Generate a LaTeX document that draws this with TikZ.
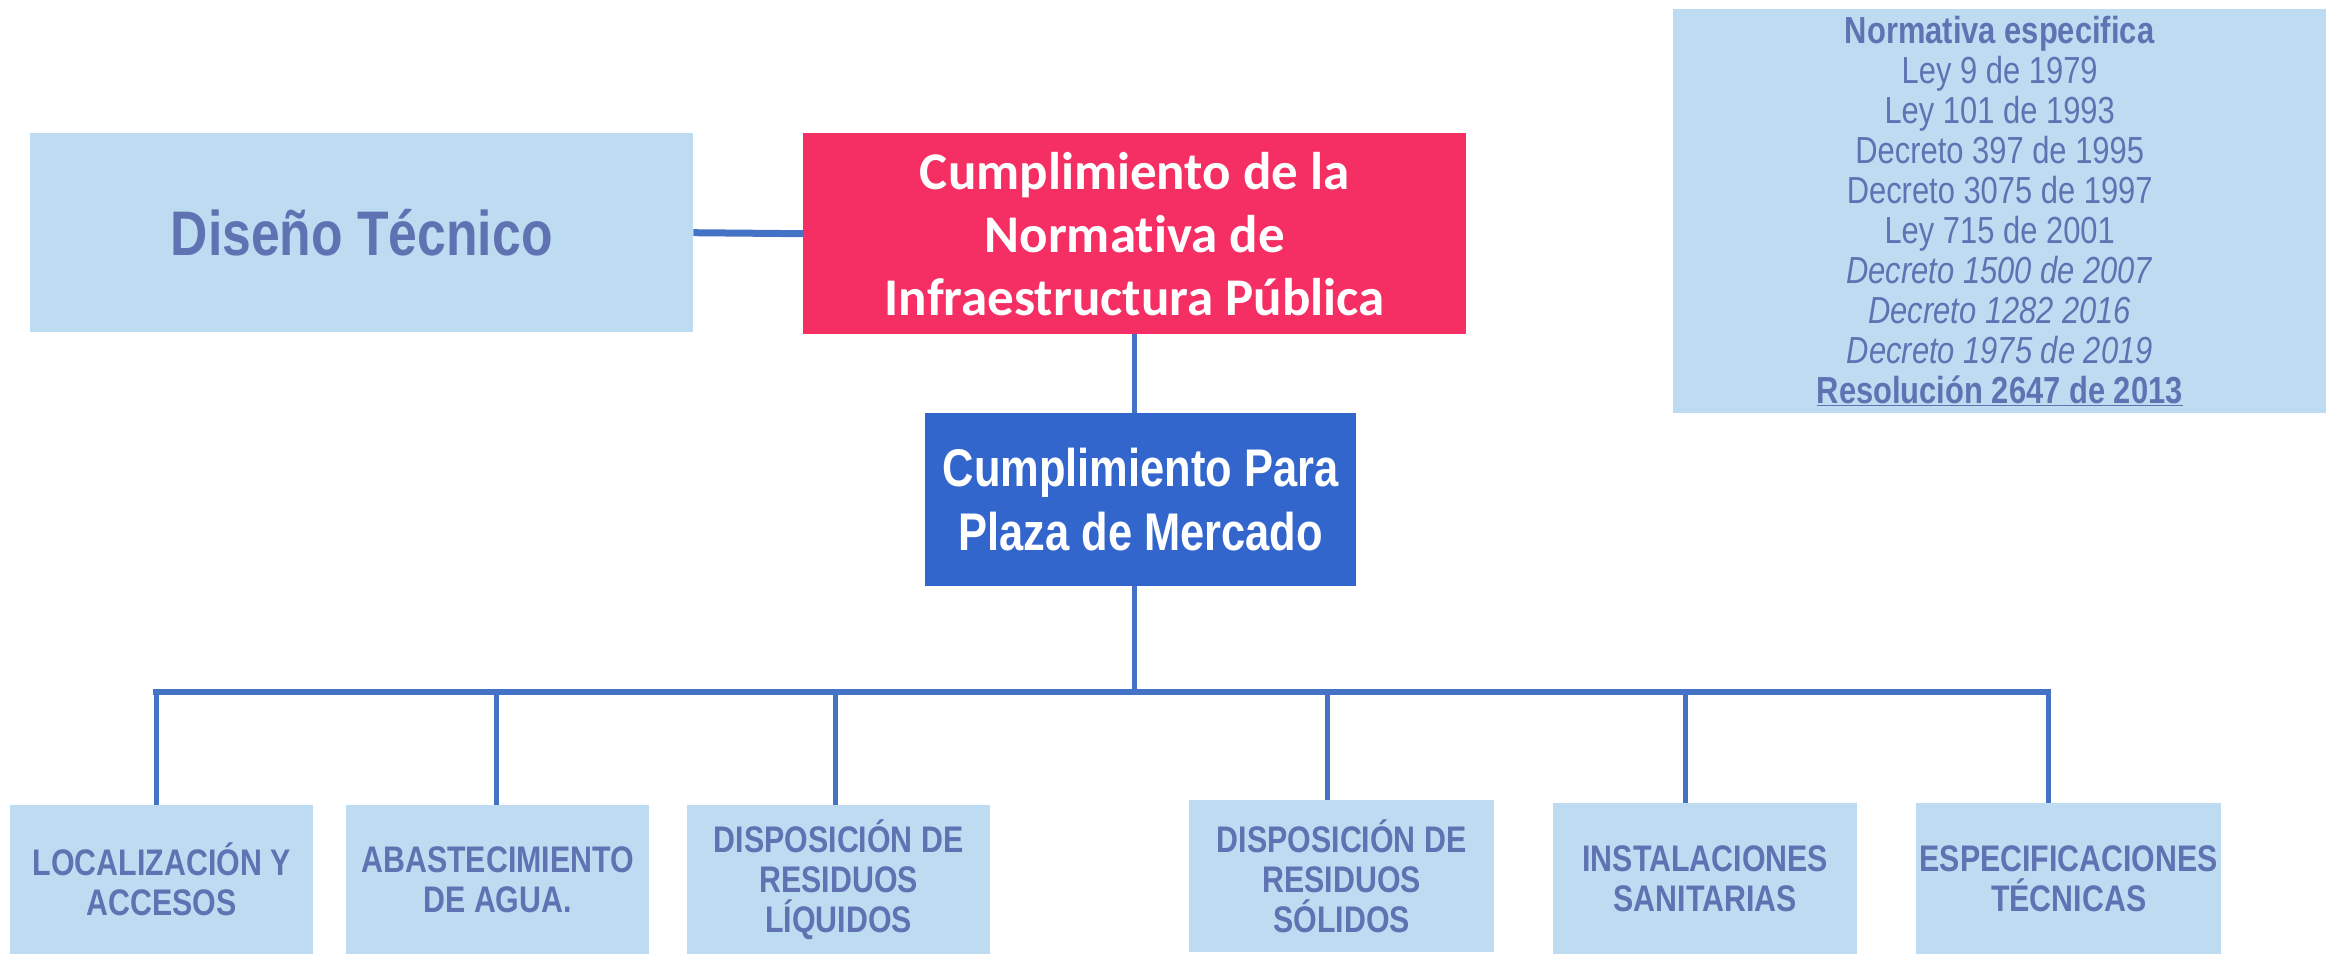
\documentclass[tikz,border=0pt]{standalone}
\usepackage{fontspec}
\setmainfont{Liberation Sans}
\newfontfamily\estrecha[FakeStretch=0.82]{Liberation Sans}
\newfontfamily\calibri[RawFeature={-liga;-calt;-clig;-dlig}]{Carlito}

\definecolor{celeste}{HTML}{BDDCF2}
\definecolor{tinta}{HTML}{5F73B3}
\definecolor{rosa}{HTML}{F52E63}
\definecolor{azul}{HTML}{3366CC}
\definecolor{linea}{HTML}{4472C4}

\tikzset{
    caja/.style={rectangle, fill=celeste, text=tinta, align=center, inner sep=0pt, anchor=north west,
        font=\estrecha\bfseries\fontsize{37}{40}\selectfont},
    ramal/.style={draw=linea, line width=5pt},
}

\begin{document}
\begin{tikzpicture}[x=1pt, y=-1pt]
    \useasboundingbox (0,0) rectangle (2326,954);

    \node[caja, minimum width=663pt, minimum height=199pt, font=\estrecha\bfseries\fontsize{63}{70}\selectfont] (diseno) at (30,133) {Diseño Técnico};
    \node[caja, fill=rosa, text=white, minimum width=663pt, minimum height=201pt, font=\calibri\bfseries\fontsize{53}{63}\selectfont] (cumple) at (803,133) {Cumplimiento de la\\Normativa de\\Infraestructura Pública};
    \node[caja, fill=azul, text=white, minimum width=431pt, minimum height=173pt, font=\estrecha\bfseries\fontsize{53}{64}\selectfont] (plaza) at (925,413) {Cumplimiento Para\\Plaza de Mercado};
    \node[caja, minimum width=653pt, minimum height=404pt, font=\estrecha\fontsize{37.7}{40}\selectfont] (norma) at (1673,9) {\textbf{Normativa especifica}\\Ley 9 de 1979\\Ley 101 de 1993\\Decreto 397 de 1995\\Decreto 3075 de 1997\\Ley 715 de 2001\\\textit{Decreto 1500 de 2007}\\\textit{Decreto 1282 2016}\\\textit{Decreto 1975 de 2019}\\\textbf{\underline{Resolución 2647 de 2013}}};

    \node[caja, minimum width=303pt, minimum height=149pt] (loc) at (10,805) {LOCALIZACIÓN Y\\ACCESOS};
    \node[caja, minimum width=303pt, minimum height=149pt] (agua) at (346,805) {ABASTECIMIENTO\\DE AGUA.};
    \node[caja, minimum width=303pt, minimum height=149pt] (liq) at (687,805) {DISPOSICIÓN DE\\RESIDUOS\\LÍQUIDOS};
    \node[caja, minimum width=305pt, minimum height=152pt] (sol) at (1189,800) {DISPOSICIÓN DE\\RESIDUOS\\SÓLIDOS};
    \node[caja, minimum width=304pt, minimum height=151pt] (san) at (1553,803) {INSTALACIONES\\SANITARIAS};
    \node[caja, minimum width=305pt, minimum height=151pt] (esp) at (1916,803) {ESPECIFICACIONES\\TÉCNICAS};

    \coordinate (r1) at (156,692);
    \coordinate (r2) at (496,692);
    \coordinate (r3) at (835,692);
    \coordinate (r4) at (1327,692);
    \coordinate (r5) at (1685,692);
    \coordinate (r6) at (2048,692);

    \draw[ramal, line width=7pt] (diseno.east) -- (cumple.west);
    \draw[ramal] (cumple.south) -- (cumple.south |- plaza.north);
    \draw[ramal] (plaza.south -| cumple.south) -- (r1 -| cumple.south);
    \draw[ramal, line width=6pt, line cap=rect] (r1) -- (r6);
    \foreach \r/\n in {r1/loc, r2/agua, r3/liq, r4/sol, r5/san, r6/esp}
        \draw[ramal] (\r) -- (\r |- \n.north);
\end{tikzpicture}
\end{document}
